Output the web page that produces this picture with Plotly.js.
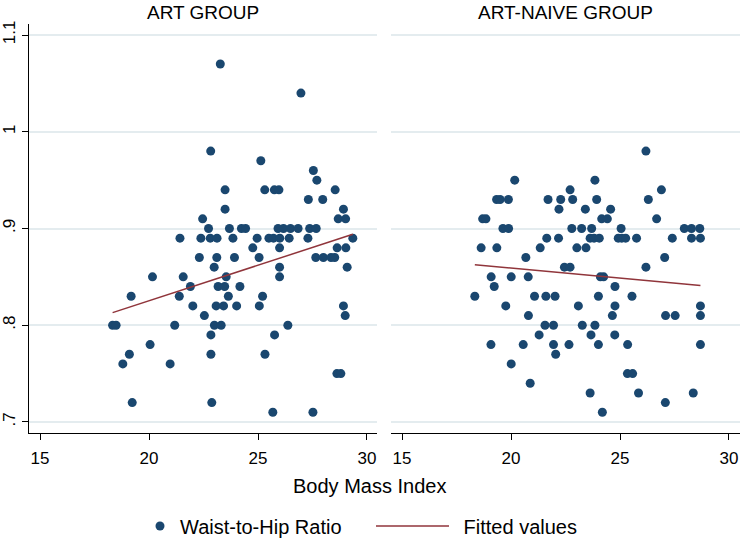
<!DOCTYPE html>
<html>
<head>
<meta charset="utf-8">
<script src="https://cdn.plot.ly/plotly-3.0.1.min.js"></script>
<style>
  html, body { margin: 0; padding: 0; background: #fff; }
  #chart { width: 740px; height: 539px; }
</style>
</head>
<body>
<div id="chart"></div>
<script>
// ART group: body mass index and waist-to-hip ratio (read row by row, top to bottom)
var artBmi = [
    23.27, 26.97, 22.83, 25.13, 27.54, 27.70,
    23.49, 25.31, 25.75, 25.96, 28.54,
    27.31, 27.97,
    23.49, 28.92,
    22.46, 28.68, 29.02,
    22.73, 23.69, 24.24, 24.43, 25.92, 26.17, 26.49, 26.84, 27.37, 27.67,
    21.42, 22.38, 22.81, 23.12, 23.85, 24.96, 25.50, 25.71, 26.00, 26.43, 27.29, 29.35,
    24.76, 25.99, 28.63, 29.03,
    22.31, 23.11, 23.92, 25.05, 27.65, 28.00, 28.35, 28.52,
    22.99, 25.99, 29.09,
    20.16, 21.57, 23.54, 25.99,
    21.90, 23.17, 23.47, 24.17,
    19.18, 21.39, 23.64, 25.21,
    22.01, 23.08, 23.42, 24.02, 25.06, 28.92,
    22.54, 29.00,
    18.33, 18.49, 21.18, 23.00, 23.31, 26.37,
    22.84, 25.76,
    20.05,
    19.10, 22.84, 25.32,
    18.80, 20.97,
    28.62, 28.80,
    19.23, 22.88,
    25.68, 27.52
];
var artWhr = [
    1.07, 1.04, 0.98, 0.97, 0.96, 0.95,
    0.94, 0.94, 0.94, 0.94, 0.94,
    0.93, 0.93,
    0.92, 0.92,
    0.91, 0.91, 0.91,
    0.90, 0.90, 0.90, 0.90, 0.90, 0.90, 0.90, 0.90, 0.90, 0.90,
    0.89, 0.89, 0.89, 0.89, 0.89, 0.89, 0.89, 0.89, 0.89, 0.89, 0.89, 0.89,
    0.88, 0.88, 0.88, 0.88,
    0.87, 0.87, 0.87, 0.87, 0.87, 0.87, 0.87, 0.87,
    0.86, 0.86, 0.86,
    0.85, 0.85, 0.85, 0.85,
    0.84, 0.84, 0.84, 0.84,
    0.83, 0.83, 0.83, 0.83,
    0.82, 0.82, 0.82, 0.82, 0.82, 0.82,
    0.81, 0.81,
    0.80, 0.80, 0.80, 0.80, 0.80, 0.80,
    0.79, 0.79,
    0.78,
    0.77, 0.77, 0.77,
    0.76, 0.76,
    0.75, 0.75,
    0.72, 0.72,
    0.71, 0.71
];

// ART-naive group
var naiveBmi = [
    26.19,
    20.17, 23.85,
    22.71, 26.90,
    19.34, 19.50, 19.88, 21.70, 22.28, 22.83, 23.93, 26.30,
    22.20, 23.41, 24.57,
    18.70, 18.85, 24.16, 24.42, 26.68,
    19.63, 19.89, 22.79, 23.24, 23.70, 25.05, 27.95, 28.28, 28.66,
    21.64, 22.18, 23.63, 23.81, 24.05, 24.92, 25.08, 25.26, 25.76, 27.40, 28.28, 28.69,
    18.63, 19.35, 21.34, 23.02, 23.44,
    20.68, 27.05,
    22.45, 22.71, 26.19,
    19.09, 20.01, 20.79, 24.10, 24.25,
    19.23, 24.77,
    18.34, 21.08, 21.60, 22.02, 24.01, 25.55,
    19.76, 23.09, 24.77, 28.69,
    20.80, 24.65, 27.09, 27.53, 28.69,
    21.56, 21.95, 23.27, 23.85,
    21.29, 23.67, 24.76,
    19.08, 20.56, 21.95, 22.66, 24.01, 25.35, 28.69,
    22.05,
    20.01,
    25.34, 25.58,
    20.88,
    23.63, 25.85, 28.36,
    27.08,
    24.19
];
var naiveWhr = [
    0.98,
    0.95, 0.95,
    0.94, 0.94,
    0.93, 0.93, 0.93, 0.93, 0.93, 0.93, 0.93, 0.93,
    0.92, 0.92, 0.92,
    0.91, 0.91, 0.91, 0.91, 0.91,
    0.90, 0.90, 0.90, 0.90, 0.90, 0.90, 0.90, 0.90, 0.90,
    0.89, 0.89, 0.89, 0.89, 0.89, 0.89, 0.89, 0.89, 0.89, 0.89, 0.89, 0.89,
    0.88, 0.88, 0.88, 0.88, 0.88,
    0.87, 0.87,
    0.86, 0.86, 0.86,
    0.85, 0.85, 0.85, 0.85, 0.85,
    0.84, 0.84,
    0.83, 0.83, 0.83, 0.83, 0.83, 0.83,
    0.82, 0.82, 0.82, 0.82,
    0.81, 0.81, 0.81, 0.81, 0.81,
    0.80, 0.80, 0.80, 0.80,
    0.79, 0.79, 0.79,
    0.78, 0.78, 0.78, 0.78, 0.78, 0.78, 0.78,
    0.77,
    0.76,
    0.75, 0.75,
    0.74,
    0.73, 0.73, 0.73,
    0.72,
    0.71
];

// fitted lines, ends
var artFitX = [18.33, 29.35];
var artFitY = [0.813, 0.894];
var naiveFitX = [18.34, 28.69];
var naiveFitY = [0.8625, 0.841];

var yTicks = [0.7, 0.8, 0.9, 1.0, 1.1];
var yTickText = ['.7', '.8', '.9', '1', '1.1'];
var xTicks = [15, 20, 25, 30];

var font = 'Liberation Sans, Arial, sans-serif';
var navy = '#1a476f';
var maroon = '#90353b';
var gridCol = '#e4ecef';

let data = [
    {
        type: 'scatter', mode: 'markers', name: 'Waist-to-Hip Ratio',
        x: artBmi, y: artWhr, xaxis: 'x', yaxis: 'y',
        marker: {color: navy, size: 9},
        legend: 'legend', showlegend: true
    },
    {
        type: 'scatter', mode: 'lines', name: '\u00a0\u2009Fitted values',
        x: artFitX, y: artFitY, xaxis: 'x', yaxis: 'y',
        line: {color: maroon, width: 1.5},
        legend: 'legend2', showlegend: true
    },
    {
        type: 'scatter', mode: 'markers', name: 'Waist-to-Hip Ratio',
        x: naiveBmi, y: naiveWhr, xaxis: 'x2', yaxis: 'y2',
        marker: {color: navy, size: 9},
        showlegend: false
    },
    {
        type: 'scatter', mode: 'lines', name: 'Fitted values',
        x: naiveFitX, y: naiveFitY, xaxis: 'x2', yaxis: 'y2',
        line: {color: maroon, width: 1.5},
        showlegend: false
    }
];

// plot area: 29..740 px wide, 24..433 px high
var W = 711, H = 409;

var xBase = {
    tickvals: xTicks,
    ticks: 'outside', ticklen: 6, tickcolor: '#000', tickwidth: 1,
    ticklabelstandoff: 4,
    showline: true, linecolor: '#000', linewidth: 1,
    showgrid: false, zeroline: false,
    tickfont: {family: font, size: 17, color: '#000'}
};

let layout = {
    width: 740, height: 539,
    margin: {l: 29, r: 0, t: 24, b: 106, autoexpand: false},
    paper_bgcolor: '#fff', plot_bgcolor: '#fff',
    font: {family: font, color: '#000'},
    xaxis: Object.assign({}, xBase, {domain: [0, 348 / W], anchor: 'y', range: [14.495, 30.459]}),
    xaxis2: Object.assign({}, xBase, {domain: [362 / W, 1], anchor: 'y2', range: [14.495, 30.505]}),
    yaxis: {
        range: [0.6886, 1.1114], anchor: 'x',
        tickvals: yTicks, ticktext: yTickText, tickangle: -90,
        ticks: 'outside', ticklen: 6, tickcolor: '#000',
        showline: true, linecolor: '#000', linewidth: 1,
        showgrid: true, gridcolor: gridCol, gridwidth: 1.5, zeroline: false,
        tickfont: {family: font, size: 17, color: '#000'}
    },
    yaxis2: {
        range: [0.6886, 1.1114], anchor: 'x2',
        tickvals: yTicks, showticklabels: false, ticks: '',
        showline: false,
        showgrid: true, gridcolor: gridCol, gridwidth: 1.5, zeroline: false
    },
    annotations: [
        {text: 'ART GROUP', xref: 'paper', yref: 'paper', x: 174 / W, y: 1 + 12 / H,
         xanchor: 'center', yanchor: 'middle', showarrow: false,
         font: {family: font, size: 19, color: '#000'}},
        {text: 'ART-NAIVE GROUP', xref: 'paper', yref: 'paper', x: 536.5 / W, y: 1 + 12 / H,
         xanchor: 'center', yanchor: 'middle', showarrow: false,
         font: {family: font, size: 19, color: '#000'}},
        {text: 'Body Mass Index', xref: 'paper', yref: 'paper', x: 340 / W, y: -53 / H,
         xanchor: 'center', yanchor: 'middle', showarrow: false,
         font: {family: font, size: 20, color: '#000'}}
    ],
    legend: {
        orientation: 'h', x: 111 / W, xanchor: 'left', y: -93 / H, yanchor: 'middle',
        font: {family: font, size: 20, color: '#000'}, bgcolor: 'rgba(0,0,0,0)', itemwidth: 30
    },
    legend2: {
        orientation: 'h', x: 342 / W, xanchor: 'left', y: -93 / H, yanchor: 'middle',
        font: {family: font, size: 20, color: '#000'}, bgcolor: 'rgba(0,0,0,0)', itemwidth: 73
    }
};

Plotly.newPlot('chart', data, layout, {displayModeBar: false});
</script>
</body>
</html>
